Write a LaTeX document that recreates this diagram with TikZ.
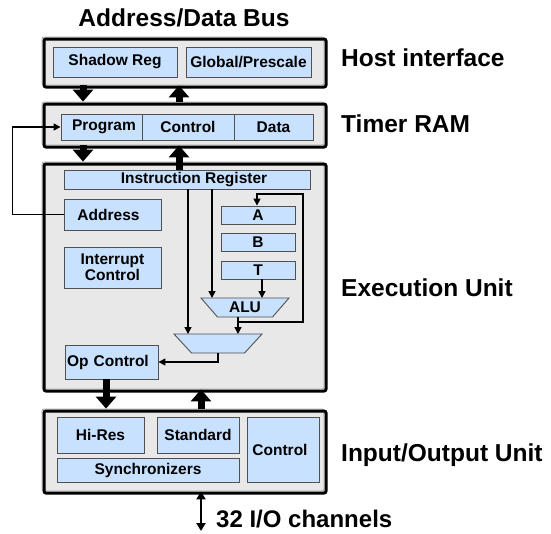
\documentclass[tikz,border=0pt]{standalone}
\usepackage{fontspec}
\setmainfont{Liberation Sans}
\usetikzlibrary{arrows.meta,calc}
\definecolor{panelgray}{RGB}{232,232,232}
\definecolor{regblue}{RGB}{200,225,255}
\definecolor{edgegray}{RGB}{80,80,80}
\begin{document}
\begin{tikzpicture}[x=1pt,y=-1pt,
  panel/.style={fill=panelgray,draw=gray!70,line width=0.8pt,rounded corners=2pt,inner sep=0pt,
    postaction={draw=black,line width=3pt,rounded corners=2pt,
      transform canvas={shift={(2pt,-2pt)}}}},
  blk/.style={draw=edgegray,line width=0.9pt,fill=regblue,inner sep=0pt,align=center,
    font=\bfseries\fontsize{15.5}{16}\selectfont},
  trapframe/.style={inner sep=0pt,outer sep=0pt},
  trapfill/.style={draw=edgegray,line width=0.9pt,fill=regblue},
  traptext/.style={inner sep=0pt,font=\bfseries\fontsize{15.5}{16}\selectfont},
  biglabel/.style={anchor=west,inner sep=0pt,font=\bfseries\fontsize{24.5}{28}\selectfont},
  bus/.style={line width=7pt,-{Triangle[width=20pt,length=12pt]}},
  sig/.style={line width=1.5pt,-{Triangle[width=7pt,length=7pt]}},
  iolink/.style={line width=2pt,{Triangle[width=9pt,length=8pt]}-{Triangle[width=9pt,length=8pt]}}
]
\useasboundingbox (0,0) rectangle (551,533);

% outer units
\node[panel,minimum width=282pt,minimum height=48pt] (host) at (183,61) {};
\node[panel,minimum width=282pt,minimum height=43pt] (timer) at (183,123.5) {};
\node[panel,minimum width=282pt,minimum height=227pt] (exec) at (183,275.5) {};
\node[panel,minimum width=282pt,minimum height=82pt] (io) at (183,450) {};

% host interface
\node[blk,minimum width=124pt,minimum height=30pt] (shadow) at (115,62) {Shadow Reg};
\node[blk,minimum width=125pt,minimum height=30pt] (global) at (248.5,62) {Global/Prescale};

% timer RAM
\node[blk,minimum width=81pt,minimum height=26pt] (prog) at (101.5,127) {\hspace*{5pt}Program};
\node[blk,minimum width=92pt,minimum height=26pt] (ctrl) at (188,127) {Control};
\node[blk,minimum width=79pt,minimum height=26pt] (data) at (273.5,127) {Data};

% execution unit
\node[blk,minimum width=246pt,minimum height=19pt] (ir) at (187,179.5) {\hspace*{14pt}Instruction Register};
\node[blk,minimum width=97pt,minimum height=31pt] (addr) at (112.5,214.5) {Address\hspace*{8pt}};
\node[blk,minimum width=97pt,minimum height=41pt] (irq) at (112.5,267.5) {Interrupt\\Control};
\node[blk,minimum width=74pt,minimum height=18pt] (A) at (258,215) {A};
\node[blk,minimum width=74pt,minimum height=18pt] (B) at (258,242) {B};
\node[blk,minimum width=74pt,minimum height=18pt] (T) at (258,270) {T};

% ALU and output selector (trapezoids)
\node[trapframe,minimum width=88pt,minimum height=19pt] (alu) at (245,307.5) {};
\draw[trapfill] (alu.north west) -- (alu.north east)
  -- ([xshift=-16.5pt]alu.south east) -- ([xshift=16.5pt]alu.south west) -- cycle;
\node[traptext] (alutext) at (alu) {ALU};
\node[trapframe,minimum width=88pt,minimum height=19pt] (mux) at (218,343.5) {};
\draw[trapfill] (mux.north west) -- (mux.north east)
  -- ([xshift=-17.5pt]mux.south east) -- ([xshift=17.5pt]mux.south west) -- cycle;

\node[blk,minimum width=93pt,minimum height=34pt,text width=89pt,align=left] (opc) at (111.5,362) {Op Control};

% input/output unit
\node[blk,minimum width=87pt,minimum height=36pt] (hires) at (100.5,435) {Hi-Res};
\node[blk,minimum width=82pt,minimum height=36pt] (std) at (198,435) {Standard};
\node[blk,minimum width=182pt,minimum height=24pt] (sync) at (148,470) {Synchronizers};
\node[blk,minimum width=72pt,minimum height=65pt] (ioctl) at (283,449.5) {Control\hspace*{6pt}};

% labels
\node[inner sep=0pt,font=\bfseries\fontsize{24.5}{28}\selectfont] (bus) at (184,18) {Address/Data Bus};
\node[biglabel] (lhost) at (341,58) {Host interface};
\node[biglabel] (ltimer) at (341,124) {Timer RAM};
\node[biglabel] (lexec) at (341,288) {Execution Unit};
\node[biglabel] (lio) at (341,455) {Input/Output Unit};

% wide bus transfers between units
\draw[bus] ([xshift=-100pt]host.south) -- ([xshift=-100pt]timer.north);
\draw[bus] ([xshift=-4pt]timer.north) -- ([xshift=-4pt]host.south);
\draw[bus] ([xshift=-100pt]timer.south) -- ([xshift=-100pt]exec.north);
\draw[bus] ([xshift=-8pt]ir.north) -- ([xshift=-8pt]ir.north |- timer.south);
\draw[bus] ([xshift=-5.5pt]opc.south) -- ([xshift=-5.5pt]opc.south |- io.north);
\draw[bus] ([xshift=18pt]io.north) -- ([xshift=18pt]io.north |- exec.south);

% internal signals
\draw[sig] (addr.west) -- ++(-51,0) |- (prog.west);
\draw[sig] ([xshift=1pt]ir.south) -- ([xshift=1pt]ir.south |- mux.north);
\draw[sig] ([xshift=25pt]ir.south) -- ([xshift=25pt]ir.south |- alu.north);
\draw[sig] ([xshift=4pt]T.south) -- ([xshift=4pt]T.south |- alu.north);
\draw[sig] ([xshift=-7pt]alu.south) -- ([xshift=-7pt]alu.south |- mux.north);
\coordinate (tap) at ($([xshift=-7pt]alu.south)+(0,5)$);
\draw[sig] (tap) -| (303,194) -| ([xshift=-1pt]A.north);
\draw[sig] (mux.south) |- (opc.east);

% external pins
\coordinate (pins) at (201,531);
\draw[iolink] ([xshift=18pt]io.south) -- (pins);
\node[anchor=west,inner sep=0pt,font=\bfseries\fontsize{24}{28}\selectfont] (lpins) at (216,519.5) {32 I/O channels};
\end{tikzpicture}
\end{document}
